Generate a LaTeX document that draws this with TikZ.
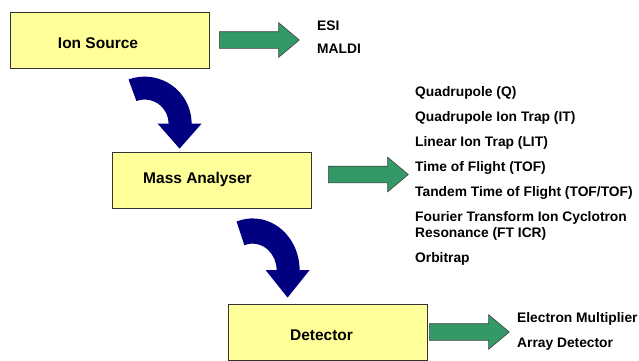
\documentclass[tikz,border=0pt]{standalone}
\usepackage{fontspec}
\setmainfont{Liberation Sans}
\usepackage{xcolor}
\usepackage{tikz}
\usetikzlibrary{shapes.arrows}
\definecolor{boxyellow}{RGB}{255,255,153}
\definecolor{flowgreen}{RGB}{51,153,102}
\definecolor{bendblue}{RGB}{0,0,128}

\begin{document}
\begin{tikzpicture}[x=1pt,y=-1pt,
    stage/.style={draw=black!80,line width=0.8pt,fill=boxyellow,minimum width=199pt,minimum height=56pt,inner sep=0pt},
    stagetext/.style={font=\fontsize{15.5}{18}\selectfont\bfseries,inner sep=0pt,text height=11pt,text depth=0pt},
    flow/.style={single arrow,draw=black!75,fill=flowgreen,line width=0.6pt,minimum height=80pt,inner sep=8pt,
        single arrow head extend=9pt,single arrow tip angle=80,anchor=west},
    kind/.style={font=\fontsize{13.8}{16}\selectfont\bfseries,anchor=base west,inner sep=0pt,align=left},
    bendarrow/.pic={
        \fill[bendblue] (0,0) -- (22,-25) -- (12,-25) arc[start angle=0,end angle=-110,radius=47]
            -- (-43.2,-47.6) arc[start angle=-110,end angle=0,radius=24] -- (-22,-25) -- cycle;
    }]
    \useasboundingbox (0,0) rectangle (639,360);

    % the three stages
    \node[stage,label={[stagetext,xshift=-11.5pt,yshift=-3pt]center:Ion Source}] (src) at (109.5,40) {};
    \node[stage,label={[stagetext,xshift=-14pt,yshift=2pt]center:Mass Analyser}] (ana) at (211.5,180) {};
    \node[stage,label={[stagetext,xshift=-6pt,yshift=-3pt]center:Detector}] (det) at (327.5,332) {};

    % bent arrows between stages
    \pic at ([shift={(68,-3)}]ana.north west) {bendarrow};
    \pic[yscale=1.1] at ([shift={(60,-6)}]det.north west) {bendarrow};

    % arrows to the kinds
    \node[flow] (srcflow) at (219,40) {};
    \node[flow] (anaflow) at (328,174.5) {};
    \node[flow] (detflow) at (429,332) {};

    \node[kind] (esi) at (317,30) {ESI};
    \node[kind] (maldi) at (317,53) {MALDI};

    \node[kind] (quad) at (415,96) {Quadrupole (Q)};
    \node[kind] (qit) at (415,121) {Quadrupole Ion Trap (IT)};
    \node[kind] (lit) at (415,146) {Linear Ion Trap (LIT)};
    \node[kind] (tof) at (415,171) {Time of Flight (TOF)};
    \node[kind] (toftof) at (415,196) {Tandem Time of Flight (TOF/TOF)};
    \node[kind] (fticr) at (415,237) {Fourier Transform Ion Cyclotron\\Resonance (FT ICR)};
    \node[kind] (orbi) at (415,262) {Orbitrap};

    \node[kind] (emult) at (517,322) {Electron Multiplier};
    \node[kind] (array) at (517,347) {Array Detector};
\end{tikzpicture}
\end{document}
